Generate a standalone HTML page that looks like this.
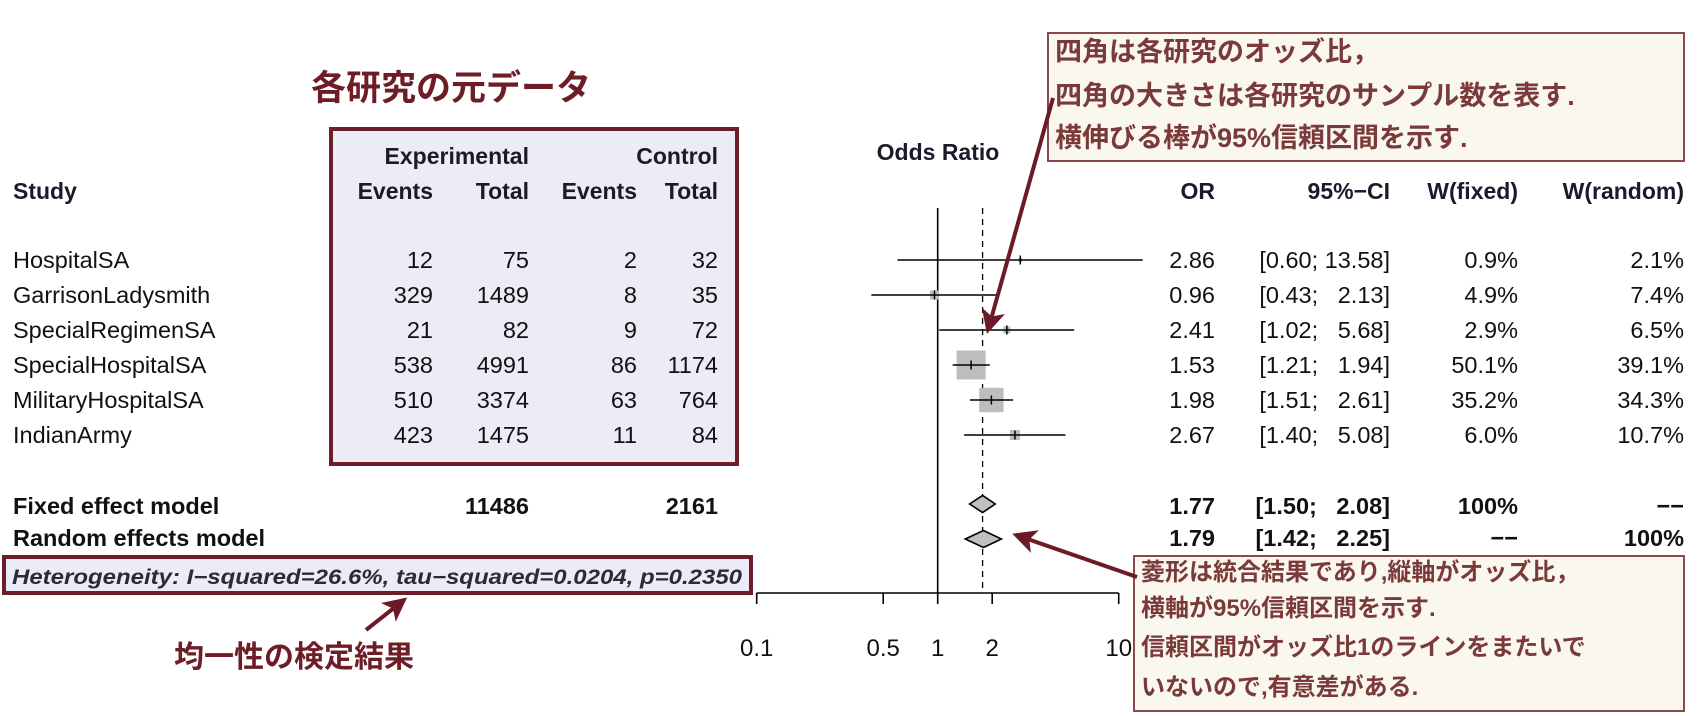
<!DOCTYPE html>
<html><head><meta charset="utf-8">
<style>
html,body{margin:0;padding:0;background:#fff;}
svg{display:block;}
text{font-family:"Liberation Sans","Noto Sans CJK JP",sans-serif;white-space:pre;}
.jp{font-family:"Noto Sans CJK JP","Liberation Sans",sans-serif;font-weight:bold;}
</style></head>
<body>
<svg id="chart" width="1706" height="716" viewBox="0 0 1706 716" xmlns="http://www.w3.org/2000/svg">
<defs>
<marker id="ah" markerWidth="6" markerHeight="6" refX="5" refY="3" orient="auto" markerUnits="strokeWidth">
<path d="M0,0 L6,3 L0,6 L1.5,3 z" fill="#6b1a28"/>
</marker>
</defs>
<rect x="331" y="129" width="406" height="335" fill="#ececf6" stroke="#6b1f2a" stroke-width="4"/>
<text class="jp" x="451" y="100" text-anchor="middle" font-size="35" fill="#6e1c26">各研究の元データ</text>
<g id="headers" font-weight="bold" font-size="23" fill="#1a1a2a">
<text x="13" y="199">Study</text>
<text x="529" y="164" text-anchor="end">Experimental</text>
<text x="718" y="164" text-anchor="end">Control</text>
<text x="433" y="199" text-anchor="end">Events</text>
<text x="529" y="199" text-anchor="end">Total</text>
<text x="637" y="199" text-anchor="end">Events</text>
<text x="718" y="199" text-anchor="end">Total</text>
<text x="938" y="160" text-anchor="middle">Odds Ratio</text>
<text x="1215" y="199" text-anchor="end">OR</text>
<text x="1390" y="199" text-anchor="end">95%−CI</text>
<text x="1518" y="199" text-anchor="end">W(fixed)</text>
<text x="1684" y="199" text-anchor="end">W(random)</text>
</g>
<g id="rows" font-size="23.5" fill="#111"></g>
<g id="plot"></g>
<rect x="4" y="557" width="747" height="36" fill="#ececf6" stroke="#6b1f2a" stroke-width="4"/>
<text x="12" y="584" font-size="21" font-style="italic" font-weight="bold" fill="#2a2a3a" textLength="730" lengthAdjust="spacingAndGlyphs">Heterogeneity: I−squared=26.6%, tau−squared=0.0204, p=0.2350</text>
<line x1="366" y1="630" x2="404" y2="600" stroke="#6b1a28" stroke-width="4" marker-end="url(#ah)"/>
<text class="jp" x="294" y="667" text-anchor="middle" font-size="30" fill="#6e1c26">均一性の検定結果</text>
<rect x="1048" y="33" width="636" height="128" fill="#f9f7ee" stroke="#8b4a4a" stroke-width="2"/>
<g class="jp" font-size="27" fill="#7b3a3a">
<text x="1055" y="61">四角は各研究のオッズ比，</text>
<text x="1055" y="105">四角の大きさは各研究のサンプル数を表す.</text>
<text x="1055" y="147">横伸びる棒が95%信頼区間を示す.</text>
</g>
<line x1="1053" y1="98" x2="988" y2="330" stroke="#6b1a28" stroke-width="4" marker-end="url(#ah)"/>
<rect x="1134" y="556" width="550" height="155" fill="#f9f7ee" stroke="#8b4a4a" stroke-width="2"/>
<g class="jp" font-size="24" fill="#7b3a3a">
<text x="1141" y="580">菱形は統合結果であり,縦軸がオッズ比，</text>
<text x="1141" y="616">横軸が95%信頼区間を示す.</text>
<text x="1141" y="655">信頼区間がオッズ比1のラインをまたいで</text>
<text x="1141" y="695">いないので,有意差がある.</text>
</g>
<line x1="1137" y1="577" x2="1016" y2="535" stroke="#6b1a28" stroke-width="4" marker-end="url(#ah)"/>
</svg>
<script>
const studies=["HospitalSA","GarrisonLadysmith","SpecialRegimenSA","SpecialHospitalSA","MilitaryHospitalSA","IndianArmy"];
const expEvents=[12,329,21,538,510,423];
const expTotal=[75,1489,82,4991,3374,1475];
const ctrlEvents=[2,8,9,86,63,11];
const ctrlTotal=[32,35,72,1174,764,84];
const orVals=[2.86,0.96,2.41,1.53,1.98,2.67];
const ciLow=[0.60,0.43,1.02,1.21,1.51,1.40];
const ciHigh=[13.58,2.13,5.68,1.94,2.61,5.08];
const wFixed=[0.9,4.9,2.9,50.1,35.2,6.0];
const wRandom=[2.1,7.4,6.5,39.1,34.3,10.7];
const summaryNames=["Fixed effect model","Random effects model"];
const summaryOR=[1.77,1.79];
const summaryLow=[1.50,1.42];
const summaryHigh=[2.08,2.25];
const summaryWFixed=["100%","−−"];
const summaryWRandom=["−−","100%"];
const summaryTotals=[11486,2161];
const tickVals=[0.1,0.5,1,2,10];
const tickLabels=["0.1","0.5","1","2","10"];

const NS="http://www.w3.org/2000/svg";
const X0=937.7, PX=181;
function xs(v){return X0+Math.log10(v)*PX;}
function rowY(i){return 260+35*i;}
function mk(tag,attrs,parent,txt){const e=document.createElementNS(NS,tag);for(const k in attrs)e.setAttribute(k,attrs[k]);if(txt!==undefined)e.textContent=txt;parent.appendChild(e);return e;}
const rows=document.getElementById('rows');
const plot=document.getElementById('plot');
function f2(v){return v.toFixed(2);}
function ciStr(l,h){const a=f2(l),b=f2(h);return "["+a+"; "+(b.length<5?"  "+b:b)+"]";}

studies.forEach((s,i)=>{
  const y=rowY(i)+8;
  let t;
  t=mk('text',{x:13,y:y},rows,s);
  
  
  const cols=[[433,expEvents[i]],[529,expTotal[i]],[637,ctrlEvents[i]],[718,ctrlTotal[i]],[1215,f2(orVals[i])],[1518,wFixed[i].toFixed(1)+"%"],[1684,wRandom[i].toFixed(1)+"%"]];
  cols.forEach(c=>{
    t=mk('text',{x:c[0],y:y,'text-anchor':'end'},rows,String(c[1]));
    
    
  });
  t=mk('text',{x:1390,y:y,'text-anchor':'end'},rows,ciStr(ciLow[i],ciHigh[i]));
  
  
});
summaryNames.forEach((s,i)=>{
  const y=(i===0?506:538)+8;
  let t=mk('text',{x:13,y:y,'font-weight':'bold'},rows,s);
  
  
  if(i===0){
    t=mk('text',{x:529,y:y,'text-anchor':'end','font-weight':'bold'},rows,String(summaryTotals[0]));
    
    
    t=mk('text',{x:718,y:y,'text-anchor':'end','font-weight':'bold'},rows,String(summaryTotals[1]));
    
    
  }
  const cols=[[1215,f2(summaryOR[i])],[1518,summaryWFixed[i]],[1684,summaryWRandom[i]]];
  cols.forEach(c=>{
    t=mk('text',{x:c[0],y:y,'text-anchor':'end','font-weight':'bold'},rows,c[1]);
    
    
  });
  t=mk('text',{x:1390,y:y,'text-anchor':'end','font-weight':'bold'},rows,ciStr(summaryLow[i],summaryHigh[i]));
  
  
});

let el=mk('line',{x1:xs(1),y1:208,x2:xs(1),y2:593,stroke:'#000','stroke-width':1.6},plot);


el=mk('line',{x1:xs(summaryOR[0]),y1:208,x2:xs(summaryOR[0]),y2:593,stroke:'#000','stroke-width':1.3,'stroke-dasharray':'6,5'},plot);


el=mk('line',{x1:xs(tickVals[0]),y1:593,x2:xs(tickVals[tickVals.length-1]),y2:593,stroke:'#000','stroke-width':1.6},plot);


tickVals.forEach((v,i)=>{
  let e=mk('line',{x1:xs(v),y1:593,x2:xs(v),y2:604,stroke:'#000','stroke-width':1.6},plot);
  
  
  e=mk('text',{x:xs(v),y:656,'text-anchor':'middle','font-size':24,fill:'#111'},plot,tickLabels[i]);
  
  
});
studies.forEach((s,i)=>{
  const y=rowY(i);
  const side=4.1*Math.sqrt(wFixed[i]);
  let e=mk('rect',{x:xs(orVals[i])-side/2,y:y-side/2,width:side,height:side,fill:'#bdbdbd'},plot);
  
  
  e=mk('line',{x1:xs(ciLow[i]),y1:y,x2:xs(ciHigh[i]),y2:y,stroke:'#000','stroke-width':1.5},plot);
  
  
  e=mk('line',{x1:xs(orVals[i]),y1:y-4.5,x2:xs(orVals[i]),y2:y+4.5,stroke:'#000','stroke-width':1.5},plot);
  
  
});
summaryOR.forEach((v,i)=>{
  const y=i===0?504:539, h=8.5;
  const pts=[[xs(summaryLow[i]),y],[xs(v),y-h],[xs(summaryHigh[i]),y],[xs(v),y+h]].map(p=>p.join(',')).join(' ');
  const e=mk('polygon',{points:pts,fill:'#c0c0c0',stroke:'#000','stroke-width':1.6},plot);
  
  
});
</script>
</body></html>
